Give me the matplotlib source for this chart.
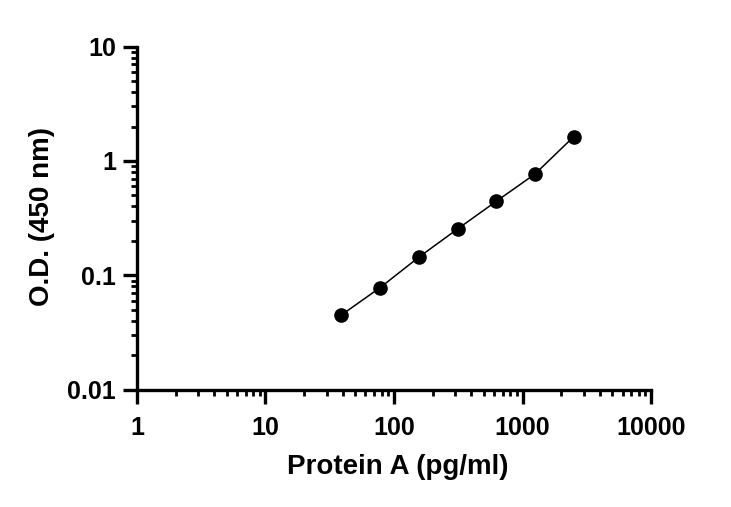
import matplotlib

matplotlib.use("Agg")
import matplotlib.pyplot as plt
from matplotlib.ticker import LogLocator, NullFormatter, FixedLocator, FixedFormatter

# Standard curve, Protein A ELISA
conc = [39, 78, 156, 312, 625, 1250, 2500]
od = [0.045, 0.078, 0.144, 0.254, 0.444, 0.769, 1.63]

x_ticks = [1, 10, 100, 1000, 10000]
x_labels = ["1", "10", "100", "1000", "10000"]
y_ticks = [0.01, 0.1, 1, 10]
y_labels = ["0.01", "0.1", "1", "10"]

plt.rcParams["font.family"] = ["Liberation Sans", "DejaVu Sans"]
plt.rcParams["font.weight"] = "bold"

fig = plt.figure(figsize=(7.31, 5.07), dpi=100)
ax = fig.add_axes([0.1874, 0.2316, 0.7032, 0.6763])

ax.plot(conc, od, color="black", linewidth=1.1, marker="o", markersize=9.5, zorder=3)

ax.set_xscale("log")
ax.set_yscale("log")
ax.set_xlim(1, 10000)
ax.set_ylim(0.01, 10)

ax.xaxis.set_major_locator(FixedLocator(x_ticks))
ax.xaxis.set_major_formatter(FixedFormatter(x_labels))
ax.yaxis.set_major_locator(FixedLocator(y_ticks))
ax.yaxis.set_major_formatter(FixedFormatter(y_labels))
ax.xaxis.set_minor_locator(LogLocator(base=10, subs=range(2, 10)))
ax.yaxis.set_minor_locator(LogLocator(base=10, subs=range(2, 10)))
ax.xaxis.set_minor_formatter(NullFormatter())
ax.yaxis.set_minor_formatter(NullFormatter())

for side in ("top", "right"):
    ax.spines[side].set_visible(False)
for side in ("left", "bottom"):
    ax.spines[side].set_linewidth(2.4)

ax.tick_params(which="major", length=10, width=2.4, labelsize=18, direction="out")
ax.tick_params(which="minor", length=4.5, width=2.0, direction="out")
ax.tick_params(axis="x", which="major", pad=9)
ax.tick_params(axis="y", which="major", pad=5)

ax.set_xlabel("Protein A (pg/ml)", fontsize=20, fontweight="bold", va="center")
ax.set_ylabel("O.D. (450 nm)", fontsize=20, fontweight="bold", va="center")
ax.xaxis.set_label_coords(0.507, -0.226)
ax.yaxis.set_label_coords(-0.185, 0.505)

fig.savefig("out.png", dpi=100, facecolor="white")
